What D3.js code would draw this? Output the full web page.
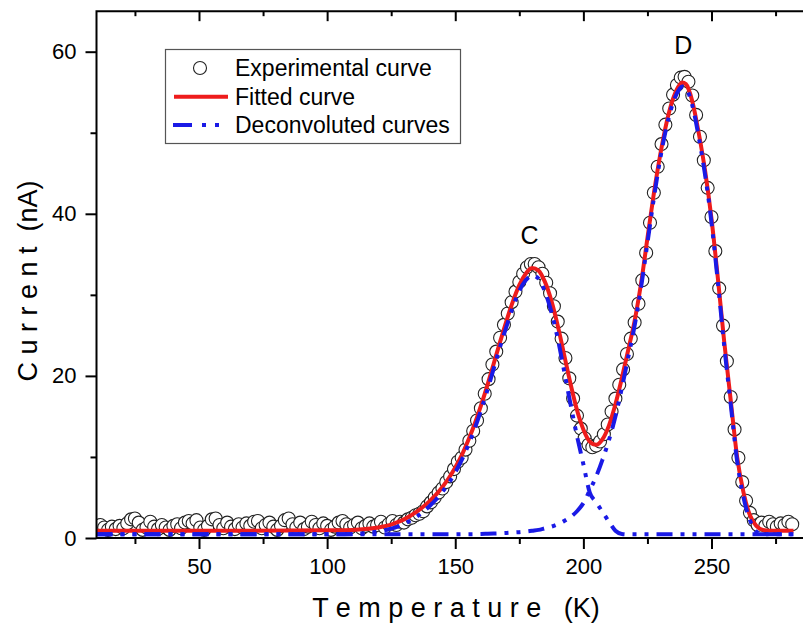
<!DOCTYPE html>
<html>
<head>
<meta charset="utf-8">
<script src="https://cdn.jsdelivr.net/npm/d3@7"></script>
<style>
  body { margin: 0; background: #fff; }
  svg { display: block; font-family: "Liberation Sans", Arial, sans-serif; }
</style>
</head>
<body>
<div id="chart"></div>
<script>
// experimental points (temperature K, current nA)
var expT = [11.5,13,14.5,16,17.5,19,20.5,22,23.5,25,
    26.5,28,29.5,31,32.5,34,35.5,37,38.5,40,
    41.5,43,44.5,46,47.5,49,50.5,52,53.5,55,
    56.5,58,59.5,61,62.5,64,65.5,67,68.5,70,
    71.5,73,74.5,76,77.5,79,80.5,82,83.5,85,
    86.5,88,89.5,91,92.5,94,95.5,97,98.5,100,
    101.5,103,104.5,106,107.5,109,110.5,112,113.5,115,
    116.5,118,119.5,121,122.5,124,125.5,127,128.5,130,
    131.5,133,134.5,136,137.5,139,140.5,142,143.5,145,
    146.5,148,149.5,151,152.5,154,155.5,157,158.5,160,
    161.5,163,164.5,166,167.5,169,170.5,172,173.5,175,
    176.5,178,179.5,181,182.5,184,185.5,187,188.5,190,
    191.5,193,194.5,196,197.5,199,200.5,202,203.5,205,
    206.5,208,209.5,211,212.5,214,215.5,217,218.5,220,
    221.5,223,224.5,226,227.5,229,230.5,232,233.5,235,
    236.5,238,239.5,241,242.5,244,245.5,247,248.5,250,
    251.5,253,254.5,256,257.5,259,260.5,262,263.5,265,
    266.5,268,269.5,271,272.5,274,275.5,277,278.5,280,
    281.5];
var expI = [1.6,1.3,1.0,1.4,1.1,1.5,1.2,1.8,2.3,2.4,
    1.9,1.0,1.3,2.0,1.4,1.1,1.6,1.3,1.0,1.5,
    1.7,1.2,1.9,2.1,1.8,2.2,1.3,1.0,1.5,2.3,
    2.4,1.6,1.2,1.9,1.4,1.1,1.7,1.3,1.8,1.5,
    2.0,2.1,1.2,1.6,1.9,1.4,1.0,1.5,2.2,2.4,
    1.7,1.3,1.9,1.1,1.4,2.0,1.6,1.2,1.8,1.5,
    1.0,1.4,1.9,2.1,1.7,1.3,1.6,1.9,1.2,1.5,
    1.8,1.4,1.6,2.0,1.3,1.7,2.1,1.6,2.0,1.9,
    2.3,2.5,2.8,3.0,3.3,3.9,4.4,5.0,5.6,6.1,
    6.9,7.6,8.5,9.4,9.9,10.9,12.0,13.2,14.5,16.0,
    17.8,19.6,21.4,23.0,24.7,26.3,27.7,29.1,30.4,31.6,
    32.6,33.4,33.8,33.8,33.4,32.6,31.5,30.2,28.6,26.7,
    24.6,22.2,19.7,17.2,15.1,13.5,12.3,11.5,11.2,11.4,
    11.9,12.8,14.0,15.6,17.2,18.9,20.8,22.7,24.6,26.6,
    28.9,31.8,35.2,38.9,42.6,45.8,48.6,51.0,53.0,54.7,
    55.9,56.8,56.9,56.3,54.6,52.2,49.5,46.6,43.2,39.6,
    35.4,30.8,26.2,21.8,17.4,13.4,9.9,6.9,4.6,3.1,
    2.2,1.6,1.9,1.5,2.0,1.7,1.4,1.8,1.6,2.0,
    1.7];

// fitted curve and the two deconvoluted peaks, same temperature grid
var fitT = [10,40,70,100,110,115,
    120,122.5,125,127.5,130,132.5,135,137.5,140,142.5,
    145,147.5,150,152.5,155,157.5,160,162.5,165,167.5,
    170,172.5,175,177.5,180,182.5,185,187.5,190,192.5,
    195,197.5,200,202.5,205,207.5,210,212.5,215,217.5,
    220,222.5,225,227.5,230,232.5,235,237.5,238.5,240,
    242.5,245,247.5,250,252.5,255,257.5,260,262.5,265,
    267.5,270,272.5,282];
var fitI = [0.9,0.9,0.9,0.95,1.0,1.1,
    1.3,1.45,1.65,1.95,2.3,2.75,3.25,3.85,4.55,5.35,
    6.3,7.4,8.7,10.2,12.0,14.0,16.3,18.8,21.5,24.2,
    26.8,29.2,31.2,32.6,33.3,33.0,31.6,29.3,26.2,22.6,
    19.0,15.8,13.4,11.9,11.5,12.2,13.9,16.5,19.7,23.2,
    26.8,31.4,37.0,42.5,47.3,51.3,54.2,55.9,56.2,56.0,
    53.9,50.0,45.3,39.4,32.0,24.1,17.0,10.0,5.6,2.8,
    1.5,1.0,0.9,0.9];
var peakC = [0.45,0.45,0.45,0.45,0.5,0.6,
    0.8,0.95,1.15,1.4,1.75,2.15,2.65,3.25,3.95,4.75,
    5.7,6.8,8.1,9.6,11.4,13.4,15.7,18.2,20.9,23.6,
    26.1,28.5,30.5,31.8,32.4,32.0,30.4,27.9,24.6,20.6,
    16.5,12.6,9.1,5.6,4.4,3.2,2.0,0.9,0.5,0.45,
    0.45,0.45,0.45,0.45,0.45,0.45,0.45,0.45,0.45,0.45,
    0.45,0.45,0.45,0.45,0.45,0.45,0.45,0.45,0.45,0.45,
    0.45,0.45,0.45,0.45];
var peakD = [0.45,0.45,0.45,0.45,0.45,0.45,
    0.45,0.45,0.45,0.45,0.45,0.45,0.45,0.45,0.45,0.45,
    0.45,0.45,0.45,0.46,0.47,0.48,0.5,0.52,0.55,0.58,
    0.62,0.67,0.72,0.8,0.9,1.0,1.2,1.4,1.7,2.1,
    2.6,3.3,4.3,5.9,7.6,9.7,12.1,15.0,18.5,22.3,
    26.2,30.9,36.4,41.9,46.8,50.8,53.7,55.4,55.7,55.5,
    53.4,49.5,44.8,38.9,31.5,23.6,16.5,9.5,5.0,2.2,
    0.8,0.45,0.45,0.45];

// peak labels
var peakNames = ["C", "D"],
    peakPos = [[179, 33.8], [239, 57.2]];

// ticks
var xMajor = [50, 100, 150, 200, 250],
    xMinor = [25, 75, 125, 175, 225, 275],
    yMajor = [0, 20, 40, 60],
    yMinor = [10, 30, 50];

var width = 803, height = 630;

var svg = d3.select("#chart")
    .append("svg")
    .attr("width", width)
    .attr("height", height);

// Set X
var x = d3.scaleLinear()
    .domain([10, 293])
    .range([96.5, 96.5 + 283 * 2.5625]);

// Set Y
var y = d3.scaleLinear()
    .domain([0, 65])
    .range([538, 538 - 65 * 8.105]);

svg.append("clipPath").attr("id", "plotClip")
    .append("rect")
    .attr("x", x(10)).attr("y", y(65))
    .attr("width", x(293) - x(10)).attr("height", y(0) - y(65));

var plot = svg.append("g").attr("clip-path", "url(#plotClip)");

// experimental circles
plot.append("g")
    .selectAll("circle")
    .data(d3.zip(expT, expI))
    .join("circle")
    .attr("cx", d => x(d[0]))
    .attr("cy", d => y(d[1]))
    .attr("r", 6.5)
    .attr("fill", "#fff")
    .attr("stroke", "#222")
    .attr("stroke-width", 1.1);

var line = d3.line()
    .x(d => x(d[0]))
    .y(d => y(d[1]))
    .curve(d3.curveMonotoneX);

// fitted curve
plot.append("path")
    .datum(d3.zip(fitT, fitI))
    .attr("d", line)
    .attr("fill", "none")
    .attr("stroke", "#ee1c1c")
    .attr("stroke-width", 4);

// deconvoluted curves
[peakC, peakD].forEach(function (p) {
    plot.append("path")
        .datum(d3.zip(fitT, p))
        .attr("d", line)
        .attr("fill", "none")
        .attr("stroke", "#1a1ae6")
        .attr("stroke-width", 4)
        .attr("stroke-dasharray", "16,8,4,8,4,8");
});

// peak labels
svg.append("g")
    .selectAll("text")
    .data(peakNames)
    .join("text")
    .attr("x", (d, i) => x(peakPos[i][0]))
    .attr("y", (d, i) => y(peakPos[i][1]) - 20)
    .attr("text-anchor", "middle")
    .attr("font-size", "25px")
    .attr("fill", "#000")
    .text(d => d);

// axes
function styleAxis(g) {
    g.select(".domain").remove();
    g.selectAll("line").attr("stroke", "#000").attr("stroke-width", 2);
    g.selectAll("text").attr("font-size", "22px").attr("fill", "#000")
        .attr("font-family", "'Liberation Sans', Arial, sans-serif");
}

svg.append("g")
    .attr("transform", `translate(0,${y(0)})`)
    .call(d3.axisBottom(x).tickValues(xMajor).tickSize(11).tickPadding(9))
    .call(styleAxis);
svg.append("g")
    .attr("transform", `translate(0,${y(0)})`)
    .call(d3.axisBottom(x).tickValues(xMinor).tickSize(6).tickFormat(""))
    .call(styleAxis);
svg.append("g")
    .attr("transform", `translate(0,${y(65)})`)
    .call(d3.axisTop(x).tickValues(xMajor).tickSize(-10).tickFormat(""))
    .call(styleAxis);
svg.append("g")
    .attr("transform", `translate(0,${y(65)})`)
    .call(d3.axisTop(x).tickValues(xMinor).tickSize(-5).tickFormat(""))
    .call(styleAxis);
svg.append("g")
    .attr("transform", `translate(${x(10)},0)`)
    .call(d3.axisLeft(y).tickValues(yMajor).tickSize(11).tickPadding(9))
    .call(styleAxis);
svg.append("g")
    .attr("transform", `translate(${x(10)},0)`)
    .call(d3.axisLeft(y).tickValues(yMinor).tickSize(6).tickFormat(""))
    .call(styleAxis);

// frame
svg.append("path")
    .attr("d", `M${x(293)},${y(65)}H${x(10)}V${y(0)}H${x(293)}`)
    .attr("fill", "none")
    .attr("stroke", "#000")
    .attr("stroke-width", 2);

// axis titles
svg.append("text")
    .attr("x", 456)
    .attr("y", 617)
    .attr("text-anchor", "middle")
    .attr("font-size", "27px")
    .style("white-space", "pre")
    .text("T e m p e r a t u r e   (K)");

svg.append("text")
    .attr("transform", "translate(37,281) rotate(-90)")
    .attr("text-anchor", "middle")
    .attr("font-size", "27px")
    .style("white-space", "pre")
    .text("C u r r e n t  (nA)");

// legend
var legend = svg.append("g");
legend.append("rect")
    .attr("x", 165.5).attr("y", 49.5)
    .attr("width", 295).attr("height", 94)
    .attr("fill", "#fff")
    .attr("stroke", "#555")
    .attr("stroke-width", 1.2);
legend.append("circle")
    .attr("cx", 200).attr("cy", 68).attr("r", 6.5)
    .attr("fill", "#fff").attr("stroke", "#222").attr("stroke-width", 1.1);
legend.append("line")
    .attr("x1", 174).attr("x2", 228).attr("y1", 96.7).attr("y2", 96.7)
    .attr("stroke", "#ee1c1c").attr("stroke-width", 4);
legend.append("line")
    .attr("x1", 173).attr("x2", 228).attr("y1", 125).attr("y2", 125)
    .attr("stroke", "#1a1ae6").attr("stroke-width", 4)
    .attr("stroke-dasharray", "19,10,4,9,4,20");
legend.selectAll("text.lab")
    .data(["Experimental curve", "Fitted curve", "Deconvoluted curves"])
    .join("text")
    .attr("class", "lab")
    .attr("x", 235)
    .attr("y", (d, i) => 76 + i * 28.7)
    .attr("font-size", "23px")
    .text(d => d);
</script>
</body>
</html>
